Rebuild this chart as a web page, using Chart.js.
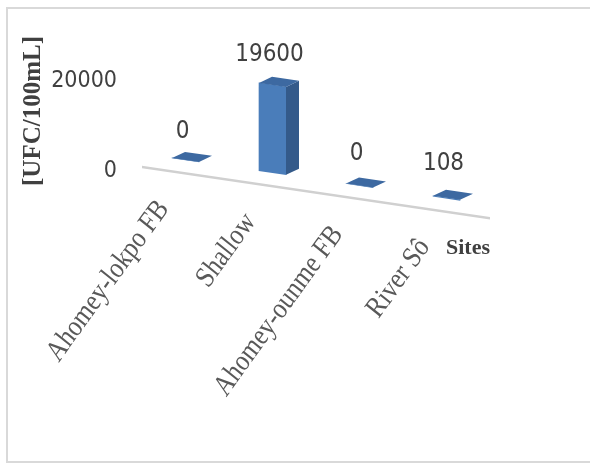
<!DOCTYPE html>
<html>
<head>
<meta charset="utf-8">
<script src="https://cdn.jsdelivr.net/npm/chart.js@4.4.1/dist/chart.umd.min.js"></script>
<style>
  html, body { margin: 0; padding: 0; background: #fff; overflow: hidden; }
  #cadre { position: absolute; left: 6px; top: 7px; width: 600px; height: 452px; border: 2px solid #d9d9d9; border-right: none; }
  #zone { position: absolute; left: 0; top: 0; width: 590px; height: 463px; }
</style>
</head>
<body>
<div id="cadre"></div>
<div id="zone"><canvas id="grafico"></canvas></div>
<script>
const sitios = ['Ahomey-lokpo FB', 'Shallow', 'Ahomey-ounme FB', 'River Sô'];
const conteos = [0, 19600, 0, 108];
const marcasY = [0, 20000];
const tituloY = '[UFC/100mL]';
const tituloX = 'Sites';

const fuenteNum = "'Liberation Sans Narrow', 'DejaVu Sans Condensed', 'Liberation Sans', sans-serif";
const fuenteSerif = "'Liberation Serif', 'DejaVu Serif', serif";

// inclinacion del suelo y profundidad de las barras
const PENDIENTE = 0.147;
const PROF_X = 13;
const PROF_Y = 8;

const barras3d = {
    id: 'barras3d',
    beforeDraw(chart) {
        // todo lo que va antes de los datos (etiquetas X incluidas) se inclina
        const ctx = chart.ctx;
        ctx.save();
        ctx.transform(1, PENDIENTE, 0, 1, 0, -PENDIENTE * chart.chartArea.left);
    },
    beforeDatasetsDraw(chart) {
        // linea del suelo, sobre el borde inferior del area
        const ctx = chart.ctx;
        const ejeX = chart.scales.x;
        const suelo = chart.scales.y.bottom;
        ctx.strokeStyle = '#d0d0d0';
        ctx.lineWidth = 2.5;
        ctx.beginPath();
        ctx.moveTo(ejeX.left, suelo);
        ctx.lineTo(ejeX.right, suelo);
        ctx.stroke();
    },
    afterDatasetsDraw(chart) {
        const ctx = chart.ctx;
        const meta = chart.getDatasetMeta(0);
        meta.data.forEach(bar => {
            const izq = bar.x - bar.width / 2;
            const der = bar.x + bar.width / 2;
            // cara lateral
            if (bar.base - bar.y > 1) {
                ctx.fillStyle = '#345a8a';
                ctx.beginPath();
                ctx.moveTo(der, bar.y);
                ctx.lineTo(der + PROF_X, bar.y - PROF_Y);
                ctx.lineTo(der + PROF_X, bar.base - PROF_Y);
                ctx.lineTo(der, bar.base);
                ctx.closePath();
                ctx.fill();
            }
            // cara superior
            ctx.fillStyle = '#3d69a1';
            ctx.beginPath();
            ctx.moveTo(izq, bar.y);
            ctx.lineTo(der, bar.y);
            ctx.lineTo(der + PROF_X, bar.y - PROF_Y);
            ctx.lineTo(izq + PROF_X, bar.y - PROF_Y);
            ctx.closePath();
            ctx.fill();
        });
        ctx.restore();

        // etiquetas de valor
        ctx.save();
        ctx.font = '24px ' + fuenteNum;
        ctx.fillStyle = '#404040';
        ctx.textAlign = 'center';
        ctx.textBaseline = 'middle';
        meta.data.forEach((bar, i) => {
            const y = bar.y - PROF_Y - 19 + PENDIENTE * (bar.x - chart.chartArea.left) * 0.85;
            ctx.fillText(String(conteos[i]), bar.x - 3, y);
        });
        ctx.restore();
    }
};

new Chart(document.getElementById('grafico'), {
    type: 'bar',
    data: {
        labels: sitios,
        datasets: [{
            data: conteos,
            backgroundColor: '#4a7dba',
            borderWidth: 0,
            barThickness: 27,
            clip: false
        }]
    },
    options: {
        responsive: true,
        maintainAspectRatio: false,
        animation: false,
        layout: { padding: { left: 0, top: 55, right: 100, bottom: 0 } },
        plugins: {
            legend: { display: false },
            tooltip: { enabled: false }
        },
        scales: {
            x: {
                afterFit: scale => { scale.height = 296; },
                grid: { display: false, drawTicks: false, z: 1 },
                border: { display: false },
                ticks: {
                    autoSkip: false,
                    minRotation: 57,
                    maxRotation: 57,
                    padding: 25,
                    labelOffset: -22,
                    color: '#595959',
                    font: { family: fuenteSerif, size: 27 }
                },
                title: {
                    display: true,
                    text: tituloX,
                    align: 'end',
                    color: '#404040',
                    padding: { top: 0, bottom: 201 },
                    font: { family: fuenteSerif, size: 22, weight: 'bold' }
                }
            },
            y: {
                min: -3000,
                max: 22000,
                afterFit: scale => { scale.width = 142; },
                afterBuildTicks: axis => { axis.ticks = marcasY.map(v => ({ value: v })); },
                grid: { display: false, drawTicks: false, z: 1 },
                border: { display: false },
                ticks: {
                    z: 1,
                    padding: 25,
                    labelOffset: 17,
                    color: '#404040',
                    font: { family: fuenteNum, size: 23 },
                    callback: v => String(v)
                },
                title: {
                    display: true,
                    text: tituloY,
                    color: '#404040',
                    padding: { top: 19, bottom: 0 },
                    font: { family: fuenteSerif, size: 25, weight: 'bold' }
                }
            }
        }
    },
    plugins: [barras3d]
});
</script>
</body>
</html>
